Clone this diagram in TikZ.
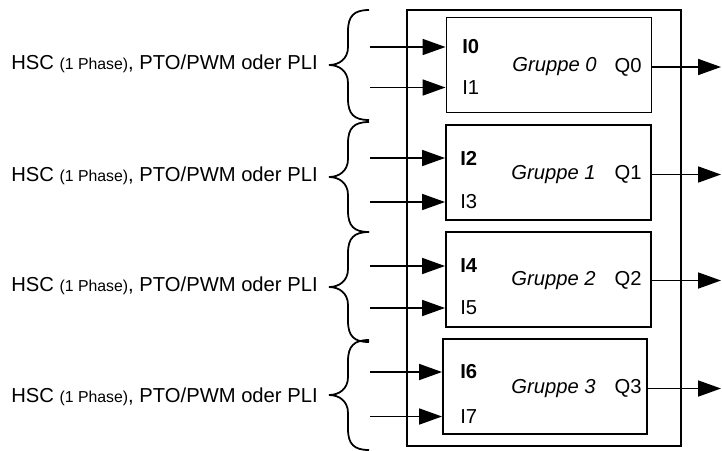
\documentclass[tikz,border=0pt]{standalone}
\usepackage{fontspec}
\setmainfont{Liberation Sans}
\usetikzlibrary{arrows.meta}

\begin{document}
\begin{tikzpicture}[
  gruppe/.style={rectangle, draw, line width=1.1pt, minimum width=4.1cm, minimum height=1.9cm},
  modul/.style={rectangle, draw, line width=1.1pt, minimum width=5.48cm, minimum height=8.72cm},
  eingang/.style={anchor=west, inner sep=0pt, font=\fontsize{11.5}{13}\selectfont},
  ausgang/.style={anchor=east, inner sep=0pt, font=\fontsize{11.5}{13}\selectfont},
  titel/.style={inner sep=0pt, font=\fontsize{11.5}{13}\selectfont\itshape},
  modus/.style={anchor=east, inner sep=0pt, font=\fontsize{11.5}{13}\selectfont},
  arrow/.style={-{Triangle[length=0.46cm, width=0.32cm]}, line width=1pt},
  klammer/.pic={
    \draw[line width=1pt] (0.8,1.1) .. controls (0.5,1.1) and (0.38,0.98) .. (0.38,0.68)
      -- (0.38,0.36) .. controls (0.38,0.12) and (0.2,0) .. (0,0)
      .. controls (0.2,0) and (0.38,-0.12) .. (0.38,-0.36) -- (0.38,-0.68)
      .. controls (0.38,-0.98) and (0.5,-1.1) .. (0.8,-1.1);
  },
]
  \useasboundingbox (0,0) rectangle (14.44,-9);

  % Modul
  \node[modul] (cpu) at (10.88,-4.56) {};

  % Gruppen
  \node[gruppe] (g0) at (10.98,-1.3) {};
  \node[gruppe] (g1) at (10.97,-3.45) {};
  \node[gruppe] (g2) at (10.97,-5.59) {};
  \node[gruppe, minimum width=4.08cm] (g3) at (10.9,-7.73) {};

  \node[titel] (n0) at (11.09,-1.34) {Gruppe 0};
  \node[titel] (n1) at (11.07,-3.49) {Gruppe 1};
  \node[titel] (n2) at (11.07,-5.61) {Gruppe 2};
  \node[titel] (n3) at (11.07,-7.77) {Gruppe 3};

  % Eingänge
  \node[eingang] (i0) at (9.24,-0.94) {\textbf{I0}};
  \node[eingang] (i1) at (9.24,-1.75) {I1};
  \node[eingang] (i2) at (9.2,-3.16) {\textbf{I2}};
  \node[eingang] (i3) at (9.2,-4.04) {I3};
  \node[eingang] (i4) at (9.2,-5.32) {\textbf{I4}};
  \node[eingang] (i5) at (9.2,-6.16) {I5};
  \node[eingang] (i6) at (9.2,-7.44) {\textbf{I6}};
  \node[eingang] (i7) at (9.2,-8.33) {I7};

  % Ausgänge
  \node[ausgang] (q0) at (12.84,-1.34) {Q0};
  \node[ausgang] (q1) at (12.84,-3.49) {Q1};
  \node[ausgang] (q2) at (12.84,-5.61) {Q2};
  \node[ausgang] (q3) at (12.84,-7.77) {Q3};

  \coordinate (links) at (7.4,0);
  \coordinate (rechts) at (14.42,0);

  \draw[arrow] (links |- i0) -- (g0.west |- i0);
  \draw[arrow] (links |- i1) -- (g0.west |- i1);
  \draw[arrow] (links |- i2) -- (g1.west |- i2);
  \draw[arrow] (links |- i3) -- (g1.west |- i3);
  \draw[arrow] (links |- i4) -- (g2.west |- i4);
  \draw[arrow] (links |- i5) -- (g2.west |- i5);
  \draw[arrow] (links |- i6) -- (g3.west |- i6);
  \draw[arrow] (links |- i7) -- (g3.west |- i7);

  \draw[arrow] (g0.east |- q0) -- (rechts |- q0);
  \draw[arrow] (g1.east |- q1) -- (rechts |- q1);
  \draw[arrow] (g2.east |- q2) -- (rechts |- q2);
  \draw[arrow] (g3.east |- q3) -- (rechts |- q3);

  % Klammern und Betriebsarten
  \pic at (6.58,-1.3) {klammer};
  \pic at (6.58,-3.54) {klammer};
  \pic at (6.58,-5.74) {klammer};
  \pic at (6.58,-7.9) {klammer};

  \node[modus] (m0) at (6.36,-1.28) {HSC {\fontsize{9}{10}\selectfont(1 Phase)}, PTO/PWM oder PLI};
  \node[modus] (m1) at (6.36,-3.52) {HSC {\fontsize{9}{10}\selectfont(1 Phase)}, PTO/PWM oder PLI};
  \node[modus] (m2) at (6.36,-5.72) {HSC {\fontsize{9}{10}\selectfont(1 Phase)}, PTO/PWM oder PLI};
  \node[modus] (m3) at (6.36,-7.94) {HSC {\fontsize{9}{10}\selectfont(1 Phase)}, PTO/PWM oder PLI};
\end{tikzpicture}
\end{document}
